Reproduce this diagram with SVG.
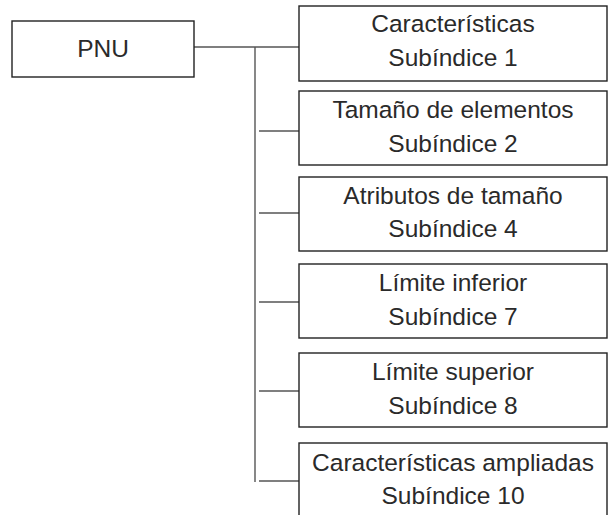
<svg xmlns="http://www.w3.org/2000/svg" width="608" height="515" viewBox="0 0 608 515">
<style>
.box{fill:#fff;stroke:#222;stroke-width:1.4}
.t{font-family:"Liberation Sans",Arial,sans-serif;font-size:24.5px;fill:#2a2a2a;text-anchor:middle}
.c{stroke:#555;stroke-width:1.4;fill:none}
</style>
<rect width="608" height="515" fill="#fff"/>
<g id="connectors">
<line class="c" x1="194" y1="47" x2="299" y2="47"/>
<line class="c" x1="255" y1="47" x2="255" y2="482"/>
<line class="c" x1="259" y1="131" x2="299" y2="131"/>
<line class="c" x1="259" y1="213" x2="299" y2="213"/>
<line class="c" x1="259" y1="302" x2="299" y2="302"/>
<line class="c" x1="259" y1="391" x2="299" y2="391"/>
<line class="c" x1="259" y1="481" x2="299" y2="481"/>
</g>
<g id="pnu">
<rect class="box" x="12" y="21" width="182" height="56"/>
<text class="t" x="103" y="57">PNU</text>
</g>
<g id="sub1">
<rect class="box" x="299" y="6" width="308" height="75"/>
<text class="t" x="453" y="32">Características</text>
<text class="t" x="453" y="66">Subíndice 1</text>
</g>
<g id="sub2">
<rect class="box" x="299" y="91" width="308" height="74"/>
<text class="t" x="453" y="118">Tamaño de elementos</text>
<text class="t" x="453" y="152">Subíndice 2</text>
</g>
<g id="sub4">
<rect class="box" x="299" y="177" width="308" height="74"/>
<text class="t" x="453" y="204">Atributos de tamaño</text>
<text class="t" x="453" y="237">Subíndice 4</text>
</g>
<g id="sub7">
<rect class="box" x="299" y="264" width="308" height="74"/>
<text class="t" x="453" y="291">Límite inferior</text>
<text class="t" x="453" y="325">Subíndice 7</text>
</g>
<g id="sub8">
<rect class="box" x="299" y="353" width="308" height="74"/>
<text class="t" x="453" y="380">Límite superior</text>
<text class="t" x="453" y="414">Subíndice 8</text>
</g>
<g id="sub10">
<rect class="box" x="299" y="443" width="308" height="80"/>
<text class="t" x="453" y="471">Características ampliadas</text>
<text class="t" x="453" y="504">Subíndice 10</text>
</g>
</svg>
